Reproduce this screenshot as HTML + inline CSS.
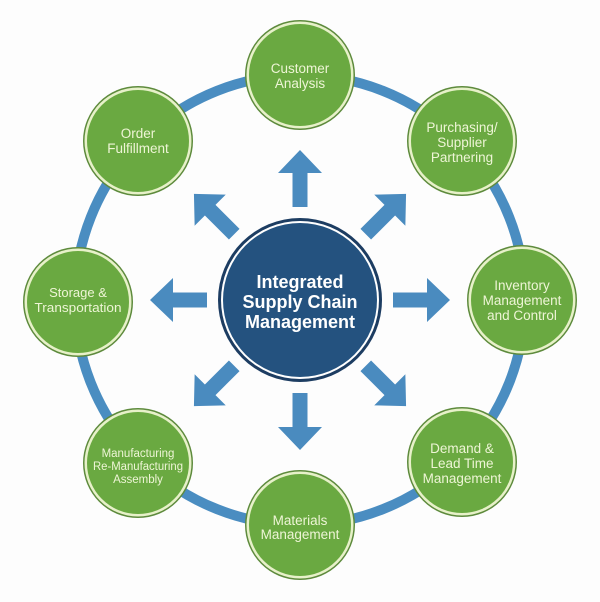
<!DOCTYPE html>
<html>
<head>
<meta charset="utf-8">
<style>
  html, body { margin:0; padding:0; background:#ffffff; }
  svg { display:block; }
  .n { font-family:"Liberation Sans", sans-serif; fill:#eef5d6; text-anchor:middle; }
  .c { font-family:"Liberation Sans", sans-serif; fill:#ffffff; text-anchor:middle; font-weight:bold; font-size:18px; }
</style>
</head>
<body>
<svg width="600" height="602" viewBox="0 0 600 602" xmlns="http://www.w3.org/2000/svg">
  <rect width="600" height="602" fill="#fdfdfd"/>
  <!-- outer ring -->
  <circle cx="300" cy="300" r="225" fill="none" stroke="#4a8dc1" stroke-width="10"/>

  <!-- arrows -->
  <g fill="#4a8bbf">
    <polygon id="ar" points="-7.5,-93 -7.5,-127 -22,-127 0,-150 22,-127 7.5,-127 7.5,-93" transform="translate(300,300)"/>
    <polygon points="-7.5,-93 -7.5,-127 -22,-127 0,-150 22,-127 7.5,-127 7.5,-93" transform="translate(300,300) rotate(45)"/>
    <polygon points="-7.5,-93 -7.5,-127 -22,-127 0,-150 22,-127 7.5,-127 7.5,-93" transform="translate(300,300) rotate(90)"/>
    <polygon points="-7.5,-93 -7.5,-127 -22,-127 0,-150 22,-127 7.5,-127 7.5,-93" transform="translate(300,300) rotate(135)"/>
    <polygon points="-7.5,-93 -7.5,-127 -22,-127 0,-150 22,-127 7.5,-127 7.5,-93" transform="translate(300,300) rotate(180)"/>
    <polygon points="-7.5,-93 -7.5,-127 -22,-127 0,-150 22,-127 7.5,-127 7.5,-93" transform="translate(300,300) rotate(225)"/>
    <polygon points="-7.5,-93 -7.5,-127 -22,-127 0,-150 22,-127 7.5,-127 7.5,-93" transform="translate(300,300) rotate(270)"/>
    <polygon points="-7.5,-93 -7.5,-127 -22,-127 0,-150 22,-127 7.5,-127 7.5,-93" transform="translate(300,300) rotate(315)"/>
  </g>

  <!-- center circle -->
  <circle cx="300" cy="300" r="82" fill="#1d3d62"/>
  <circle cx="300" cy="300" r="79" fill="#ffffff"/>
  <circle cx="300" cy="300" r="77" fill="#24527f"/>
  <text class="c" x="300" y="288">Integrated</text>
  <text class="c" x="300" y="308">Supply Chain</text>
  <text class="c" x="300" y="328">Management</text>

  <!-- nodes -->
  <g>
    <g id="nodes">
      <!-- node template drawn per position -->
    </g>
  </g>

  <!-- Customer Analysis -->
  <circle cx="300" cy="75" r="55" fill="#5e8b3d"/>
  <circle cx="300" cy="75" r="53.5" fill="#e7f1c9"/>
  <circle cx="300" cy="75" r="51" fill="#6aa941"/>
  <text class="n" font-size="13.5" x="300" y="73">Customer</text>
  <text class="n" font-size="13.5" x="300" y="88">Analysis</text>

  <!-- Purchasing -->
  <circle cx="462" cy="141" r="55" fill="#5e8b3d"/>
  <circle cx="462" cy="141" r="53.5" fill="#e7f1c9"/>
  <circle cx="462" cy="141" r="51" fill="#6aa941"/>
  <text class="n" font-size="13.5" x="462" y="132">Purchasing/</text>
  <text class="n" font-size="13.5" x="462" y="147">Supplier</text>
  <text class="n" font-size="13.5" x="462" y="162">Partnering</text>

  <!-- Inventory -->
  <circle cx="522" cy="300" r="55" fill="#5e8b3d"/>
  <circle cx="522" cy="300" r="53.5" fill="#e7f1c9"/>
  <circle cx="522" cy="300" r="51" fill="#6aa941"/>
  <text class="n" font-size="13.5" x="522" y="290">Inventory</text>
  <text class="n" font-size="13.5" x="522" y="305">Management</text>
  <text class="n" font-size="13.5" x="522" y="320">and Control</text>

  <!-- Demand -->
  <circle cx="462" cy="462" r="55" fill="#5e8b3d"/>
  <circle cx="462" cy="462" r="53.5" fill="#e7f1c9"/>
  <circle cx="462" cy="462" r="51" fill="#6aa941"/>
  <text class="n" font-size="13.5" x="462" y="453">Demand &amp;</text>
  <text class="n" font-size="13.5" x="462" y="468">Lead Time</text>
  <text class="n" font-size="13.5" x="462" y="483">Management</text>

  <!-- Materials -->
  <circle cx="300" cy="525" r="55" fill="#5e8b3d"/>
  <circle cx="300" cy="525" r="53.5" fill="#e7f1c9"/>
  <circle cx="300" cy="525" r="51" fill="#6aa941"/>
  <text class="n" font-size="13.5" x="300" y="525">Materials</text>
  <text class="n" font-size="13.5" x="300" y="539">Management</text>

  <!-- Manufacturing -->
  <circle cx="138" cy="463" r="55" fill="#5e8b3d"/>
  <circle cx="138" cy="463" r="53.5" fill="#e7f1c9"/>
  <circle cx="138" cy="463" r="51" fill="#6aa941"/>
  <text class="n" font-size="11.5" x="138" y="457">Manufacturing</text>
  <text class="n" font-size="11.5" x="138" y="470" textLength="90" lengthAdjust="spacingAndGlyphs">Re-Manufacturing</text>
  <text class="n" font-size="11.5" x="138" y="483">Assembly</text>

  <!-- Storage -->
  <circle cx="78" cy="302" r="55" fill="#5e8b3d"/>
  <circle cx="78" cy="302" r="53.5" fill="#e7f1c9"/>
  <circle cx="78" cy="302" r="51" fill="#6aa941"/>
  <text class="n" font-size="13" x="78" y="297">Storage &amp;</text>
  <text class="n" font-size="13" x="78" y="312" textLength="87" lengthAdjust="spacingAndGlyphs">Transportation</text>

  <!-- Order Fulfillment -->
  <circle cx="138" cy="141" r="55" fill="#5e8b3d"/>
  <circle cx="138" cy="141" r="53.5" fill="#e7f1c9"/>
  <circle cx="138" cy="141" r="51" fill="#6aa941"/>
  <text class="n" font-size="13.5" x="138" y="138">Order</text>
  <text class="n" font-size="13.5" x="138" y="153">Fulfillment</text>
</svg>
</body>
</html>
